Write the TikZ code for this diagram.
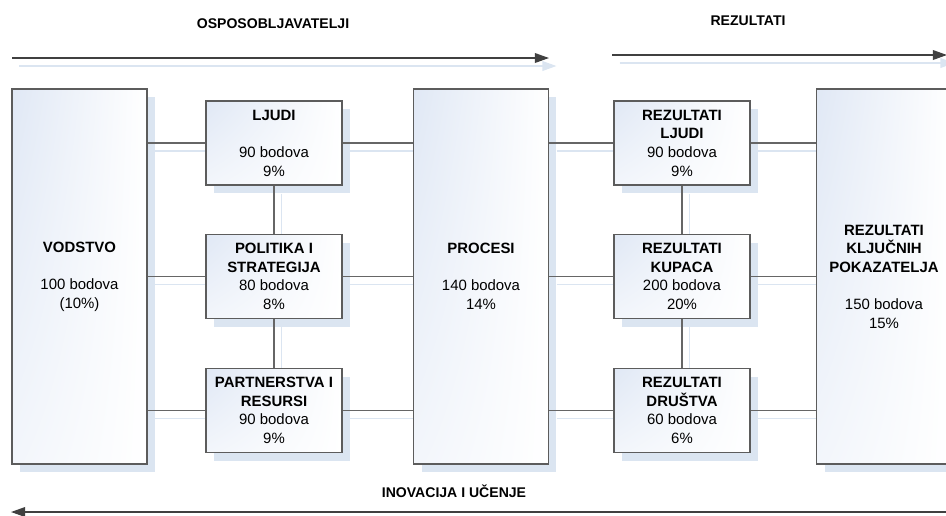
\documentclass[tikz,border=0pt]{standalone}
\usepackage{fontspec}
\setmainfont{Liberation Sans}
\usetikzlibrary{shadows}
\usetikzlibrary{shadings}
\usetikzlibrary{backgrounds}
\usetikzlibrary{arrows.meta}
\usetikzlibrary{positioning}
\definecolor{shd}{HTML}{DBE5F1}
\definecolor{boxtop}{HTML}{E0E8F5}
\definecolor{edgegray}{HTML}{5C5C5C}
\tikzset{
    box/.style = {rectangle, draw=edgegray, line width=0.8pt, align=center, upper left=boxtop, upper right=white, lower left=white!60!boxtop, lower right=white, drop shadow={shadow xshift=0.16cm, shadow yshift=-0.16cm, fill=shd, opacity=1}, font=\fontsize{8.5}{10.6}\selectfont},
    bigbox/.style = {box, minimum width=2.7cm, minimum height=7.5cm},
    smallbox/.style = {box, minimum width=2.72cm, minimum height=1.68cm},
    link/.style = {draw=black!60, line width=0.75pt},
    linkshd/.style = {draw=shd, line width=0.9pt, transform canvas={shift={(0.15cm,-0.16cm)}}},
    flow/.style = {-{Triangle[length=8pt,width=5.5pt]}, line width=0.75pt, draw=black!75, fill=black},
    flowshd/.style = {-{Triangle[length=8pt,width=5.5pt]}, line width=0.9pt, draw=shd, fill=shd, transform canvas={shift={(0.15cm,-0.16cm)}}},
    title/.style = {font=\fontsize{8}{10}\selectfont\bfseries}
}

\begin{document}
\begin{tikzpicture}[x=0.02cm, y=-0.02cm]
  \useasboundingbox (0,0) rectangle (946,515);

  % naslovi i strelice
  \node[title] (ost) at (273,24) {OSPOSOBLJAVATELJI};
  \node[title] (rzt) at (748,21) {REZULTATI};
  \node[title] (inu) at (454,491) {INOVACIJA I UČENJE};
  \coordinate (o1) at (12,58);
  \coordinate (o2) at (549,58);
  \coordinate (r1) at (612,55);
  \coordinate (r2) at (947,55);
  \coordinate (i1) at (946,512);
  \coordinate (i2) at (11,512);

  % okviri
  \node[bigbox] (vod) at (79.5,276.5) {\textbf{VODSTVO}\\[10.6pt]100 bodova\\(10\%)};
  \node[smallbox] (lju) at (274,143) {\textbf{LJUDI}\\[10.6pt]90 bodova\\9\%};
  \node[smallbox] (pol) at (274,276.5) {\textbf{POLITIKA I}\\\textbf{STRATEGIJA}\\80 bodova\\8\%};
  \node[smallbox] (par) at (274,410.5) {\textbf{PARTNERSTVA I}\\\textbf{RESURSI}\\90 bodova\\9\%};
  \node[bigbox] (pro) at (481,276.5) {\textbf{PROCESI}\\[10.6pt]140 bodova\\14\%};
  \node[smallbox] (rlj) at (682,143) {\textbf{REZULTATI}\\\textbf{LJUDI}\\90 bodova\\9\%};
  \node[smallbox] (rku) at (682,276.5) {\textbf{REZULTATI}\\\textbf{KUPACA}\\200 bodova\\20\%};
  \node[smallbox] (rdr) at (682,410.5) {\textbf{REZULTATI}\\\textbf{DRUŠTVA}\\60 bodova\\6\%};
  \node[bigbox] (rkp) at (884,276.5) {\textbf{REZULTATI}\\\textbf{KLJUČNIH}\\\textbf{POKAZATELJA}\\[10.6pt]150 bodova\\15\%};

  % veze
  \foreach \s in {lju,pol,par} {
    \draw[link] (vod.east |- \s) -- (\s.west);
    \draw[link] (\s.east) -- (pro.west |- \s);
  }
  \foreach \s in {rlj,rku,rdr} {
    \draw[link] (pro.east |- \s) -- (\s.west);
    \draw[link] (\s.east) -- (rkp.west |- \s);
  }
  \draw[link] (lju) -- (pol);
  \draw[link] (pol) -- (par);
  \draw[link] (rlj) -- (rku);
  \draw[link] (rku) -- (rdr);
  \draw[flow] (o1) -- (o2);
  \draw[flow] (r1) -- (r2);
  \draw[flow] (i1) -- (i2);

  \begin{pgfonlayer}{background}
    \foreach \s in {lju,pol,par} {
      \draw[linkshd] (vod.east |- \s) -- (\s.west);
      \draw[linkshd] (\s.east) -- (pro.west |- \s);
    }
    \foreach \s in {rlj,rku,rdr} {
      \draw[linkshd] (pro.east |- \s) -- (\s.west);
      \draw[linkshd] (\s.east) -- (rkp.west |- \s);
    }
    \draw[linkshd] (lju) -- (pol);
    \draw[linkshd] (pol) -- (par);
    \draw[linkshd] (rlj) -- (rku);
    \draw[linkshd] (rku) -- (rdr);
    \draw[flowshd] (o1) -- (o2);
    \draw[flowshd] (r1) -- (r2);
  \end{pgfonlayer}
\end{tikzpicture}
\end{document}
